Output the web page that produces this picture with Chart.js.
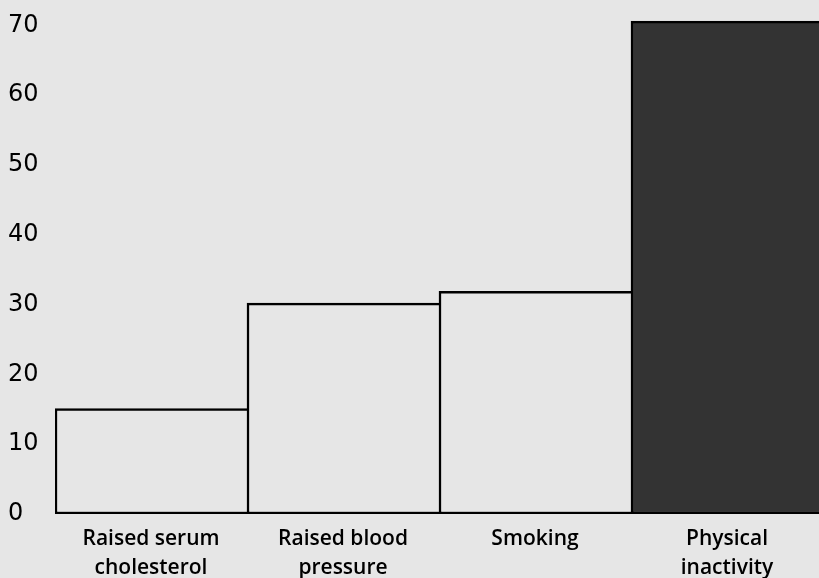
<!DOCTYPE html>
<html lang="en">
  <head>
    <meta charset="UTF-8" />
    <title>Risk factors</title>
    <script src="https://cdn.jsdelivr.net/npm/chart.js"></script>
    <style>
      html,
      body {
        margin: 0;
        padding: 0;
        overflow: hidden;
        background-color: #e6e6e6;
      }

      /* a bit wider than the window so the last bar runs off the right edge */
      .chart-wrapper {
        width: 823px;
        height: 578px;
      }
    </style>
  </head>
  <body>
    <div class="chart-wrapper">
      <canvas id="riskChart"></canvas>
    </div>

    <script>
      const categories = [
        ["Raised serum", "cholesterol"],
        ["Raised blood", "pressure"],
        ["Smoking"],
        ["Physical", "inactivity"],
      ];
      const values = [15.1, 30.2, 31.9, 70.6];
      const barColors = ["#e6e6e6", "#e6e6e6", "#e6e6e6", "#333333"];
      const yTicks = [0, 10, 20, 30, 40, 50, 60, 70];

      // shared edges: each bar draws its left side only
      const barBorders = [
        { top: 2.5, left: 2.5, bottom: 2.5, right: 0 },
        { top: 2.5, left: 2.5, bottom: 2.5, right: 0 },
        { top: 2.5, left: 2.5, bottom: 2.5, right: 0 },
        { top: 2.5, left: 2.5, bottom: 2.5, right: 0 },
      ];

      new Chart(document.getElementById("riskChart").getContext("2d"), {
        type: "bar",
        data: {
          labels: categories,
          datasets: [
            {
              data: values,
              backgroundColor: barColors,
              borderColor: "#000000",
              borderWidth: barBorders,
              borderSkipped: false,
              barPercentage: 1,
              categoryPercentage: 1,
            },
          ],
        },
        options: {
          responsive: true,
          maintainAspectRatio: false,
          animation: false,
          layout: { padding: { top: 0, right: 0, left: 8, bottom: 0 } },
          plugins: {
            legend: { display: false },
            tooltip: { enabled: false },
          },
          scales: {
            x: {
              grid: { display: false },
              border: { display: false },
              ticks: {
                color: "#000000",
                padding: 3,
                maxRotation: 0,
                font: { family: "Open Sans", size: 21, weight: "600", lineHeight: 1.38 },
              },
              afterFit: (scale) => {
                scale.height = 64;
              },
            },
            y: {
              min: 0,
              max: 70.7,
              grid: { display: false },
              border: { display: false },
              afterBuildTicks: (scale) => {
                scale.ticks = yTicks.map((v) => ({ value: v }));
              },
              ticks: {
                color: "#000000",
                crossAlign: "far",
                padding: 6,
                font: { family: "DejaVu Sans", size: 24 },
              },
              afterFit: (scale) => {
                scale.width = 47;
              },
            },
          },
        },
      });
    </script>
  </body>
</html>
